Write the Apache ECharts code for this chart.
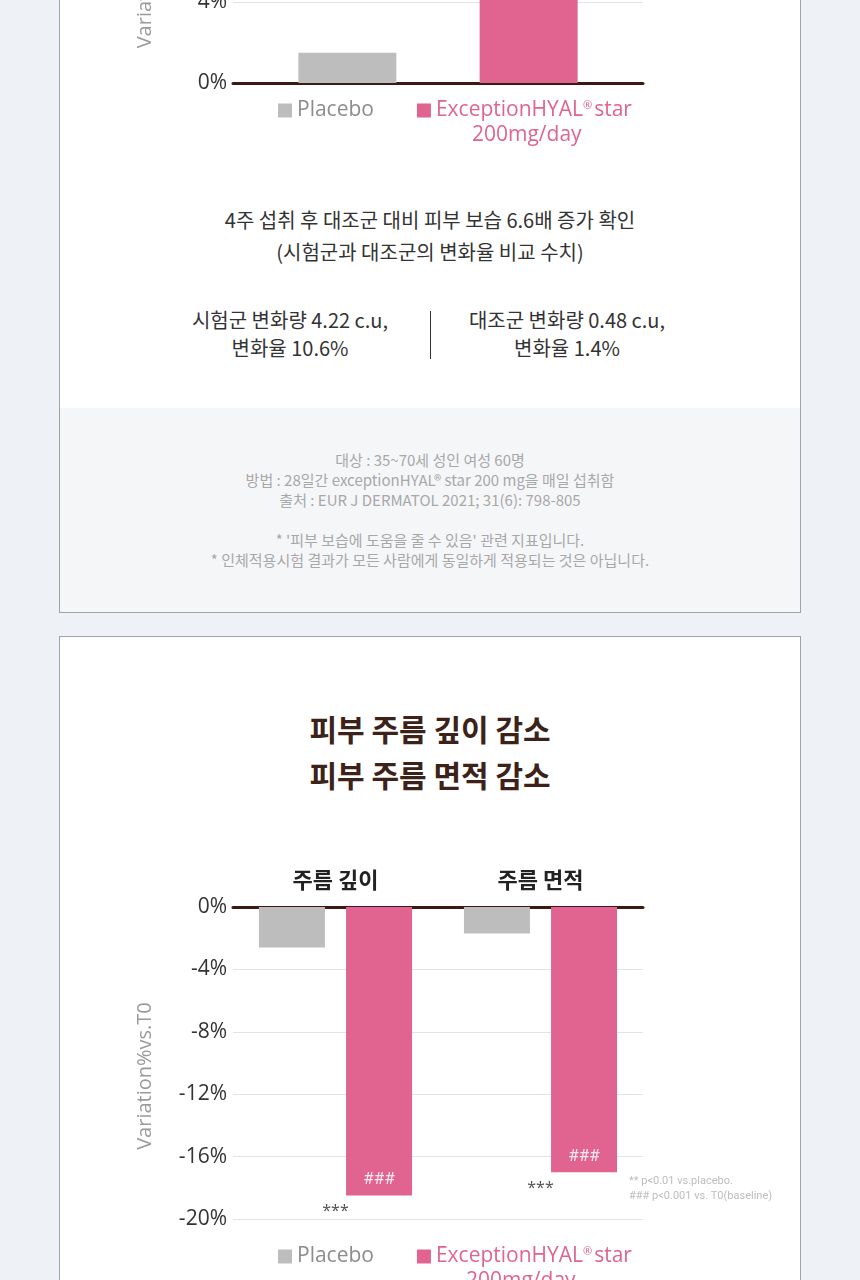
<!DOCTYPE html>
<html>
<head>
<meta charset="utf-8">
<script src="https://cdn.jsdelivr.net/npm/echarts@6/dist/echarts.min.js"></script>
<style>
  html, body { margin: 0; padding: 0; }
  body {
    width: 860px; height: 1280px; overflow: hidden; position: relative;
    background: #eef1f5;
    font-family: "Noto Sans CJK KR", "Noto Sans", sans-serif;
  }
  .abs { position: absolute; }
  .card { box-sizing: border-box; border: 1px solid #a3a3a3; background: #fff; }
  .center { text-align: center; }
  .txt { color: #333; font-size: 20px; line-height: 32px; }
  .note { color: #a8a8a8; font-size: 15px; line-height: 20px; }
  .title { color: #3c2218; font-size: 30px; line-height: 46px; font-weight: 700; }
  .chart { left: 0; width: 860px; }
</style>
</head>
<body>
<div class="abs card" style="left:59px; top:-700px; width:742px; height:1313px;"></div>
<div class="abs" style="left:60px; top:408px; width:740px; height:204px; background:#f5f6f8;"></div>
<div class="abs card" style="left:59px; top:636px; width:742px; height:800px;"></div>

<div id="chart1" class="abs chart" style="top:-300px; height:450px;"></div>

<div class="abs center txt" style="left:60px; top:204px; width:740px;">
  4주 섭취 후 대조군 대비 피부 보습 6.6배 증가 확인<br>(시험군과 대조군의 변화율 비교 수치)
</div>
<div class="abs center txt" style="left:140px; top:306px; width:300px; line-height:28px;">
  시험군 변화량 4.22 c.u,<br>변화율 10.6%
</div>
<div class="abs" style="left:430px; top:311px; width:1px; height:48px; background:#333;"></div>
<div class="abs center txt" style="left:417px; top:306px; width:300px; line-height:28px;">
  대조군 변화량 0.48 c.u,<br>변화율 1.4%
</div>
<div class="abs center note" style="left:60px; top:450px; width:740px;">
  대상 : 35~70세 성인 여성 60명<br>
  방법 : 28일간 exceptionHYAL® star 200 mg을 매일 섭취함<br>
  출처 : EUR J DERMATOL 2021; 31(6): 798-805
</div>
<div class="abs center note" style="left:60px; top:530px; width:740px;">
  * '피부 보습에 도움을 줄 수 있음' 관련 지표입니다.<br>
  * 인체적용시험 결과가 모든 사람에게 동일하게 적용되는 것은 아닙니다.
</div>

<div class="abs center title" style="left:60px; top:705px; width:740px;">
  피부 주름 깊이 감소<br>피부 주름 면적 감소
</div>

<div id="chart2" class="abs chart" style="top:800px; height:480px;"></div>

<script>
// 보습 (top chart, cut off at the top of the picture)
const moistCats = [''];
const moistPlacebo = [1.5];
const moistHyal = [10.6];
const moistTicks = ['0%', '4%', '8%', '12%'];

// 주름 (bottom chart)
const wrinkleCats = ['주름 깊이', '주름 면적'];
const wrinklePlacebo = [-2.6, -1.7];
const wrinkleHyal = [-18.5, -17.0];
const wrinkleTicks = ['0%', '-4%', '-8%', '-12%', '-16%', '-20%'];
const hyalMarks = ['###', '###'];
const vsPlaceboMarks = ['***', '***'];

const seriesNames = ['Placebo', 'ExceptionHYAL® star 200mg/day'];
const GRAY = '#bdbdbd';
const PINK = '#e0648f';
const BROWN = '#3b1a14';
const LATIN = '"Open Sans", "Noto Sans CJK KR", sans-serif';

function legendOpt(top) {
  return {
    left: 278,
    top: top,
    padding: 0,
    icon: 'rect',
    itemWidth: 14,
    itemHeight: 14,
    itemGap: 43,
    selectedMode: false,
    data: [
      { name: seriesNames[0], textStyle: { color: '#8c8c8c' } },
      { name: seriesNames[1], textStyle: { color: PINK } }
    ],
    formatter: function (name) {
      if (name === seriesNames[1]) return 'ExceptionHYAL{s|®}star';
      return name;
    },
    textStyle: {
      fontFamily: LATIN,
      fontSize: 21,
      fontWeight: 500,
      rich: {
        s: { fontSize: 11, padding: [0, 2, 10, 0], fontFamily: LATIN }
      }
    }
  };
}

function yAxisOpt(min, max, ticks) {
  return {
    type: 'value',
    min: min,
    max: max,
    interval: 4,
    name: 'Variation%vs.T0',
    nameLocation: 'middle',
    nameRotate: 90,
    nameGap: 78,
    nameTextStyle: { color: '#9a9a9a', fontSize: 20, fontFamily: LATIN, padding: [0, 26, 0, 0] },
    axisLine: { show: false },
    axisTick: { show: false },
    axisLabel: {
      color: '#333',
      fontSize: 21,
      fontFamily: LATIN,
      margin: 6,
      formatter: function (v) {
        const i = Math.round(Math.abs(v - (min < 0 ? 0 : min)) / 4);
        return ticks[i];
      }
    },
    splitLine: { lineStyle: { color: '#e3e3e3', width: 1 } }
  };
}

const chart1 = echarts.init(document.getElementById('chart1'));
chart1.setOption({
  animation: false,
  grid: { left: 233, right: 217, top: 140, bottom: 67 },
  legend: legendOpt(400),
  xAxis: {
    type: 'category',
    data: moistCats,
    axisLine: { lineStyle: { color: BROWN, width: 3 } },
    axisTick: { show: false },
    axisLabel: { show: false }
  },
  yAxis: yAxisOpt(0, 12, moistTicks),
  graphic: [{
    type: 'text', left: 472, top: 425,
    style: { text: '200mg/day', fill: PINK, fontSize: 21, fontWeight: 500, fontFamily: LATIN }
  }],
  series: [
    { name: seriesNames[0], type: 'bar', data: moistPlacebo, barWidth: 98, barGap: '85%',
      itemStyle: { color: GRAY } },
    { name: seriesNames[1], type: 'bar', data: moistHyal, barWidth: 98,
      itemStyle: { color: PINK } }
  ]
});

const chart2 = echarts.init(document.getElementById('chart2'));
chart2.setOption({
  animation: false,
  grid: { left: 233, right: 217, top: 107, bottom: 61 },
  legend: legendOpt(446),
  xAxis: {
    type: 'category',
    position: 'top',
    data: wrinkleCats,
    axisLine: { lineStyle: { color: BROWN, width: 3 } },
    axisTick: { show: false },
    axisLabel: {
      color: '#222', fontSize: 22, fontWeight: 'bold',
      fontFamily: '"Noto Sans CJK KR", sans-serif', margin: 16
    }
  },
  yAxis: yAxisOpt(-20, 0, wrinkleTicks),
  graphic: [
    { type: 'text', left: 466, top: 471,
      style: { text: '200mg/day', fill: PINK, fontSize: 21, fontWeight: 500, fontFamily: LATIN } },
    { type: 'text', left: 629, top: 374,
      style: { text: '** p<0.01 vs.placebo.\n### p<0.001 vs. T0(baseline)', fill: '#bdbdbd',
        fontSize: 11, lineHeight: 15, fontFamily: '"Roboto", sans-serif' } }
  ],
  series: [
    { name: seriesNames[0], type: 'bar', data: wrinklePlacebo, barWidth: 66, barGap: '32%',
      itemStyle: { color: GRAY } },
    { name: seriesNames[1], type: 'bar', data: wrinkleHyal, barWidth: 66,
      itemStyle: { color: PINK },
      label: {
        show: true, position: 'insideBottom', distance: 7,
        color: 'rgba(255,255,255,0.85)', fontSize: 17, fontFamily: '"Roboto", sans-serif',
        formatter: function (p) { return hyalMarks[p.dataIndex]; }
      }
    },
    { type: 'scatter', data: wrinkleHyal, symbolSize: 0, silent: true,
      label: {
        show: true, position: 'bottom', distance: 8,
        color: '#222', fontSize: 16, fontFamily: LATIN,
        formatter: function (p) { return vsPlaceboMarks[p.dataIndex]; }
      }
    }
  ]
});
</script>
</body>
</html>
